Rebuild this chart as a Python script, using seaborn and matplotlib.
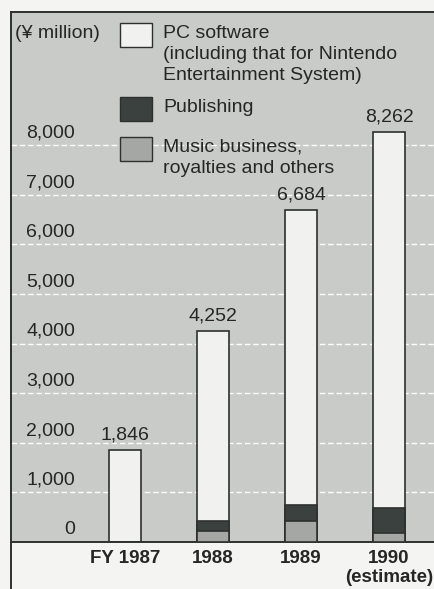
import matplotlib
matplotlib.use("Agg")
import matplotlib.pyplot as plt
import matplotlib.transforms as mtransforms
from matplotlib.patches import Rectangle
from matplotlib.lines import Line2D
import seaborn as sns
import pandas as pd

# ---- data (¥ million) ----
years = ["FY 1987", "1988", "1989", "1990\n(estimate)"]
totals = [1846, 4252, 6684, 8262]
publishing = [0, 205, 330, 500]
music = [0, 220, 420, 180]
yticks = [0, 1000, 2000, 3000, 4000, 5000, 6000, 7000, 8000]
legend_labels = ["PC software\n(including that for Nintendo\nEntertainment System)",
                 "Publishing",
                 "Music business,\nroyalties and others"]
unit_label = "(¥ million)"

# ---- style ----
sns.set_theme(style="white")
plt.rcParams['font.family'] = ['Liberation Sans', 'DejaVu Sans']

BG = "#c9cbc8"
WHITE = "#f1f1ef"
DARK = "#3b413f"
MID = "#a5a7a4"
EDGE = "#2e302f"
TXT = "#262626"
FS = 14

W, H = 434, 589
fig = plt.figure(figsize=(W / 100, H / 100), dpi=100, facecolor="#f4f4f2")

def fx(x):
    return x / W

def fy(y):
    return 1 - y / H

top_px, base_px, left_px = 12, 542, 11
ax = fig.add_axes([fx(left_px), fy(base_px), 1 - fx(left_px), (base_px - top_px) / H])
ax.set_facecolor(BG)

df = pd.DataFrame({
    "year": years,
    "total": totals,
    "pub_cum": [p + m for p, m in zip(publishing, music)],
    "music": music,
})

bw = 32 / 88
sns.barplot(data=df, x="year", y="total", color=WHITE, width=bw, edgecolor=EDGE,
            linewidth=1.2, saturation=1, ax=ax, zorder=3)
sns.barplot(data=df, x="year", y="pub_cum", color=DARK, width=bw, edgecolor=EDGE,
            linewidth=1.2, saturation=1, ax=ax, zorder=3)
sns.barplot(data=df, x="year", y="music", color=MID, width=bw, edgecolor=EDGE,
            linewidth=1.2, saturation=1, ax=ax, zorder=3)

px_per_unit = 88.0
xmin = -(125 - left_px) / px_per_unit
ax.set_xlim(xmin, xmin + (W - left_px) / px_per_unit)
scale = (base_px - 145) / 8000.0
ax.set_ylim(0, (base_px - top_px) / scale)

# gridlines
ax.set_yticks(yticks)
ax.set_yticklabels([f"{v:,}" for v in yticks])
ax.yaxis.grid(True, color="white", linestyle=(0, (4, 2)), linewidth=1.0, zorder=1)
ax.set_axisbelow(True)
ax.tick_params(axis="y", length=0, pad=-(75 - left_px) * 0.72, labelsize=FS, labelcolor=TXT)
off = mtransforms.ScaledTranslation(0, 12 / 100, fig.dpi_scale_trans)
for lbl in ax.get_yticklabels():
    lbl.set_horizontalalignment("right")
    lbl.set_verticalalignment("center")
    lbl.set_transform(lbl.get_transform() + off)

# x labels
ax.set_xlabel("")
ax.set_ylabel("")
ax.tick_params(axis="x", length=0, pad=6, labelsize=13.5, labelcolor=TXT)
for lbl in ax.get_xticklabels():
    lbl.set_fontweight("bold")
    lbl.set_verticalalignment("top")
    lbl.set_horizontalalignment("center")
    lbl.set_multialignment("center")
    lbl.set_linespacing(1.1)

# value labels
voff = mtransforms.offset_copy(ax.transData, fig=fig, x=0, y=15, units="dots")
for i, t in enumerate(totals):
    ax.text(i, t, f"{t:,}", transform=voff, ha="center", va="center",
            fontsize=FS, color=TXT, zorder=5)

# spines
ax.spines["right"].set_visible(False)
for s in ["left", "top", "bottom"]:
    ax.spines[s].set_visible(True)
    ax.spines[s].set_color(EDGE)
    ax.spines[s].set_linewidth(1.4)

# left border continues below the baseline
fig.add_artist(Line2D([fx(left_px), fx(left_px)], [fy(base_px), 0],
                      transform=fig.transFigure, color=EDGE, linewidth=1.4))

# legend (manual)
fig.text(fx(15), fy(33), unit_label, ha="left", va="center", fontsize=FS, color=TXT)
boxes = [(23, WHITE), (97, DARK), (137, MID)]
for (ytop, col) in boxes:
    fig.add_artist(Rectangle((fx(120), fy(ytop + 24)), 32 / W, 24 / H,
                             transform=fig.transFigure, facecolor=col,
                             edgecolor=EDGE, linewidth=1.0))
fig.text(fx(163), fy(25), legend_labels[0], ha="left", va="top", fontsize=FS,
         color=TXT, linespacing=1.3)
fig.text(fx(163), fy(107), legend_labels[1], ha="left", va="center", fontsize=FS, color=TXT)
fig.text(fx(163), fy(139), legend_labels[2], ha="left", va="top", fontsize=FS,
         color=TXT, linespacing=1.3)

fig.savefig("out.png", dpi=100, facecolor=fig.get_facecolor())
